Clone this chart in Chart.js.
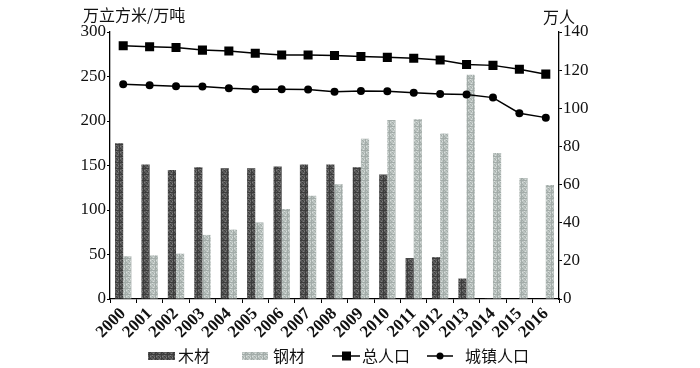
<!DOCTYPE html>
<html><head><meta charset="utf-8">
<script src="https://cdn.jsdelivr.net/npm/chart.js@4/dist/chart.umd.min.js"></script>
<style>html,body{margin:0;padding:0;background:#fff}#wrap{width:700px;height:368px;position:relative}</style>
</head><body><div id="wrap"><canvas id="c" width="700" height="368"></canvas></div>
<script>
const years = ['2000','2001','2002','2003','2004','2005','2006','2007','2008','2009','2010','2011','2012','2013','2014','2015','2016'];
const wood = [175,151,145,148,147,147,149,151,151,148,140,46,47,23,1,0,0];
const steel = [48,49,51,72,78,86,101,116,129,180,201,202,186,252,164,136,128];
const totalPop = [132.8,132.3,131.9,130.5,130.0,128.9,127.9,127.9,127.7,127.2,126.7,126.2,125.3,123.0,122.5,120.5,117.9];
const urbanPop = [112.6,112.1,111.6,111.4,110.5,110.0,110.0,109.8,108.7,109.1,108.9,108.1,107.5,107.2,105.6,97.4,95.1];
const leftTicks = [0,50,100,150,200,250,300];
const rightTicks = [0,20,40,60,80,100,120,140];
const seriesNames = ['木材','钢材','总人口','城镇人口'];
const leftTitle = '万立方米/万吨';
const rightTitle = '万人';

function makePattern(base, a, b){
  const c = document.createElement('canvas'); c.width = 6; c.height = 6;
  const x = c.getContext('2d');
  x.fillStyle = base; x.fillRect(0,0,6,6);
  for(let i=0;i<6;i++) for(let j=0;j<6;j++){
    const h = (i*7 + j*13 + i*j*3) % 7;
    if(h===0 || h===3){ x.fillStyle = a; x.fillRect(i,j,1,1); }
    else if(h===5){ x.fillStyle = b; x.fillRect(i,j,1,1); }
  }
  return x.createPattern(c,'repeat');
}
const darkPat = makePattern('#5a5a5a','#3c3c3c','#7c7c7c');
const lightPat = makePattern('#bcc4c1','#a3aca9','#d8dedc');

const serif = "'Liberation Serif','DejaVu Serif',serif";
const cjk = "'Noto Sans CJK SC','Noto Sans',sans-serif";

const legendPlugin = {
  id: 'customLegend',
  afterDraw(chart){
    const ctx = chart.ctx; ctx.save();
    const y = 356;
    ctx.font = '16px ' + cjk; ctx.fillStyle = '#111'; ctx.textBaseline = 'middle';
    ctx.fillStyle = darkPat; ctx.fillRect(148, y-4, 27, 8);
    ctx.fillStyle = '#111'; ctx.fillText(seriesNames[0], 178, y);
    ctx.fillStyle = lightPat; ctx.fillRect(242, y-4, 26, 8);
    ctx.fillStyle = '#111'; ctx.fillText(seriesNames[1], 273, y);
    ctx.strokeStyle = '#000'; ctx.lineWidth = 1.5;
    ctx.beginPath(); ctx.moveTo(332, y); ctx.lineTo(360, y); ctx.stroke();
    ctx.fillStyle = '#000'; ctx.fillRect(342, y-4.5, 9, 9);
    ctx.fillStyle = '#111'; ctx.fillText(seriesNames[2], 362, y);
    ctx.beginPath(); ctx.moveTo(427, y); ctx.lineTo(453, y); ctx.stroke();
    ctx.fillStyle = '#000'; ctx.beginPath(); ctx.arc(440, y, 3.5, 0, Math.PI*2); ctx.fill();
    ctx.fillStyle = '#111'; ctx.fillText(seriesNames[3], 465, y);
    ctx.font = '16px ' + cjk; ctx.textBaseline = 'middle';
    ctx.textAlign = 'left';
    ctx.fillText(leftTitle, 83, 15);
    ctx.fillText(rightTitle, 543, 17);
    ctx.restore();
  }
};

new Chart(document.getElementById('c'), {
  type: 'bar',
  data: {
    labels: years,
    datasets: [
      {label: seriesNames[0], data: wood, backgroundColor: darkPat, yAxisID: 'y', order: 2,
       categoryPercentage: 0.62, barPercentage: 1.0},
      {label: seriesNames[1], data: steel, backgroundColor: lightPat, yAxisID: 'y', order: 2,
       categoryPercentage: 0.62, barPercentage: 1.0},
      {type: 'line', label: seriesNames[2], data: totalPop, yAxisID: 'y1', order: 0,
       borderColor: '#000', borderWidth: 1.5, pointStyle: 'rect', pointRadius: 6.4,
       pointBackgroundColor: '#000', pointBorderColor: '#000', pointBorderWidth: 0, tension: 0},
      {type: 'line', label: seriesNames[3], data: urbanPop, yAxisID: 'y1', order: 0,
       borderColor: '#000', borderWidth: 1.5, pointStyle: 'circle', pointRadius: 4,
       pointBackgroundColor: '#000', pointBorderColor: '#000', pointBorderWidth: 0, tension: 0}
    ]
  },
  options: {
    responsive: false, animation: false, devicePixelRatio: 1,
    layout: {padding: {top: 32, left: 0, right: 0, bottom: 0}},
    plugins: {legend: {display: false}, tooltip: {enabled: false}},
    scales: {
      x: {
        offset: true,
        afterFit(s){ s.height = 69; },
        grid: {display: true, drawOnChartArea: false, offset: true, tickLength: 4, color: '#000', lineWidth: 1},
        border: {display: true, color: '#000', width: 1.3},
        ticks: {autoSkip: false, minRotation: 45, maxRotation: 45, color: '#111', padding: 1,
                font: {family: serif, size: 17, weight: 'bold'}}
      },
      y: {
        position: 'left', min: 0, max: 300,
        afterFit(s){ s.width = 110; },
        afterBuildTicks(s){ s.ticks = leftTicks.map(v => ({value: v})); },
        grid: {display: true, drawOnChartArea: false, tickLength: 3, color: '#000'},
        border: {display: true, color: '#000', width: 1.3},
        ticks: {color: '#111', padding: 1, font: {family: serif, size: 17}}
      },
      y1: {
        position: 'right', min: 0, max: 140,
        afterFit(s){ s.width = 141; },
        afterBuildTicks(s){ s.ticks = rightTicks.map(v => ({value: v})); },
        grid: {display: true, drawOnChartArea: false, tickLength: 3, color: '#000'},
        border: {display: true, color: '#000', width: 1.3},
        ticks: {color: '#111', padding: 1, font: {family: serif, size: 17}}
      }
    }
  },
  plugins: [legendPlugin]
});
</script>
</body></html>
